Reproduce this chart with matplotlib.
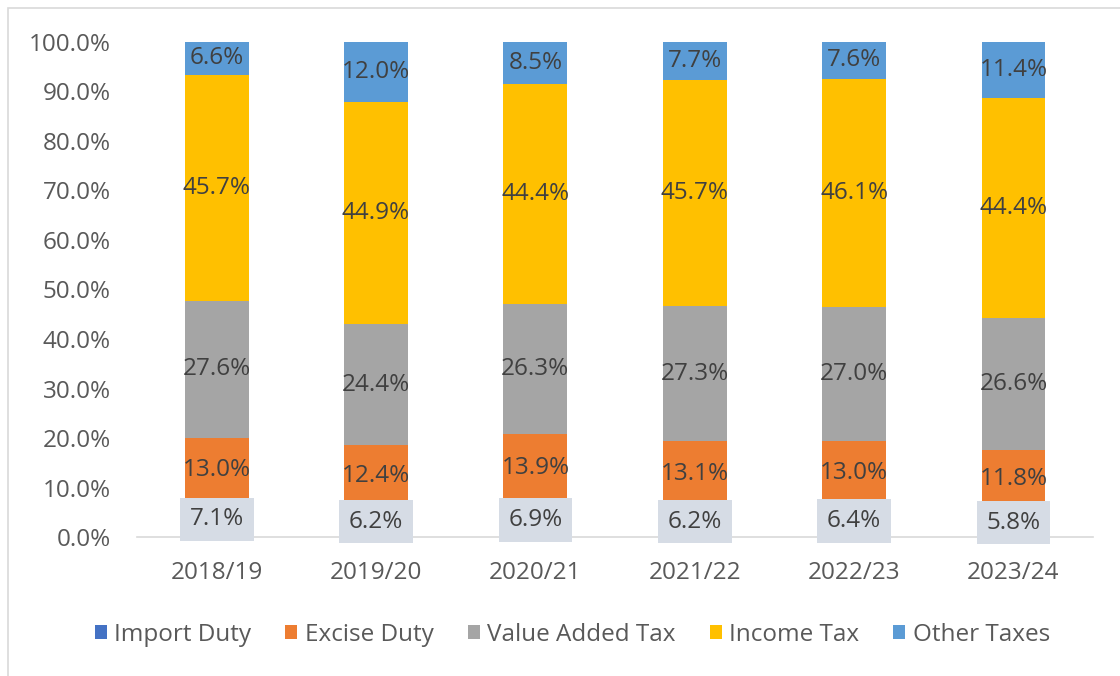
import matplotlib.pyplot as plt
from matplotlib.patches import Rectangle
from matplotlib.ticker import PercentFormatter
import numpy as np

plt.rcParams['font.family'] = ['Open Sans', 'DejaVu Sans']

years = ["2018/19", "2019/20", "2020/21", "2021/22", "2022/23", "2023/24"]
import_duty = [7.1, 6.2, 6.9, 6.2, 6.4, 5.8]
excise_duty = [13.0, 12.4, 13.9, 13.1, 13.0, 11.8]
value_added_tax = [27.6, 24.4, 26.3, 27.3, 27.0, 26.6]
income_tax = [45.7, 44.9, 44.4, 45.7, 46.1, 44.4]
other_taxes = [6.6, 12.0, 8.5, 7.7, 7.6, 11.4]

series = [
    ("Import Duty", import_duty, "#4472C4"),
    ("Excise Duty", excise_duty, "#ED7D31"),
    ("Value Added Tax", value_added_tax, "#A5A5A5"),
    ("Income Tax", income_tax, "#FFC000"),
    ("Other Taxes", other_taxes, "#5B9BD5"),
]

FS = 17.5

fig = plt.figure(figsize=(11.2, 6.76), dpi=100)
ax = fig.add_axes([0.1223, 0.2056, 0.8537, 0.7323])

# outer chart border
fig.patches.append(Rectangle((8 / 1120, -0.1), 1.2, 1.1 - 8 / 676,
                             transform=fig.transFigure, fill=False,
                             edgecolor="#D9D9D9", linewidth=1.2))

x = np.arange(len(years))
bottom = np.zeros(len(years))
text_color = "#404040"
for i, (name, vals, color) in enumerate(series):
    vals = np.array(vals)
    ax.bar(x, vals, width=0.40, bottom=bottom, color=color, label=name, zorder=2)
    for xi, b, v in zip(x, bottom, vals):
        kw = dict(ha="center", va="center", fontsize=FS, color=text_color, zorder=4)
        if i == 0:
            kw["bbox"] = dict(boxstyle="square,pad=0.4", facecolor="#D6DCE5",
                              edgecolor="none")
        ax.text(xi, b + v / 2, f"{v:.1f}%", **kw)
    bottom += vals

ax.set_xlim(-0.5, len(years) - 0.5)
ax.set_ylim(0, 100)
ax.set_yticks(np.arange(0, 101, 10))
ax.yaxis.set_major_formatter(PercentFormatter(decimals=1))
ax.set_xticks(x)
ax.set_xticklabels(years)
ax.tick_params(axis="both", length=0, labelsize=FS, colors="#595959")
ax.tick_params(axis="x", pad=17)
ax.tick_params(axis="y", pad=19)
for s in ["top", "right", "left"]:
    ax.spines[s].set_visible(False)
ax.spines["bottom"].set_color("#D9D9D9")
ax.spines["bottom"].set_linewidth(1.2)
ax.spines["bottom"].set_zorder(1)

leg = fig.legend(loc="center", bbox_to_anchor=(0.511, 0.061), ncol=5,
                 frameon=False, fontsize=FS, handlelength=0.5, handleheight=0.5,
                 handletextpad=0.3, columnspacing=1.4)
for t in leg.get_texts():
    t.set_color("#595959")

fig.savefig("out.png", dpi=100)
